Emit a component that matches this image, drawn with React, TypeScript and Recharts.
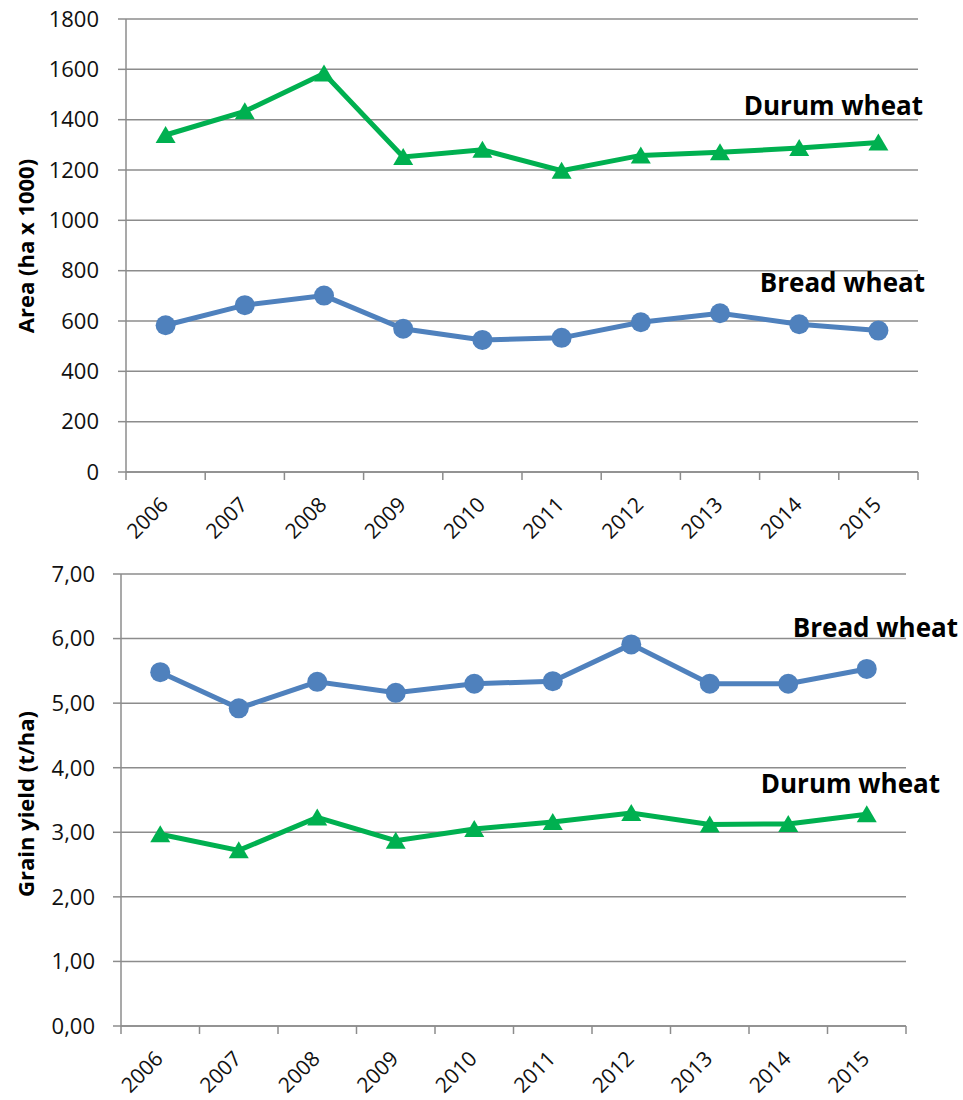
import { CartesianGrid, Customized, Line, LineChart, XAxis, YAxis } from "recharts";

const years = ["2006", "2007", "2008", "2009", "2010", "2011", "2012", "2013", "2014", "2015"];

// Area (ha x 1000)
const durumArea = [1339, 1433, 1583, 1252, 1280, 1197, 1258, 1271, 1287, 1309];
const breadArea = [583, 663, 701, 569, 525, 533, 595, 631, 587, 562];

// Grain yield (t/ha)
const breadYield = [5.48, 4.92, 5.33, 5.16, 5.3, 5.34, 5.91, 5.3, 5.3, 5.53];
const durumYield = [2.97, 2.72, 3.23, 2.87, 3.05, 3.16, 3.3, 3.12, 3.13, 3.28];

const areaTicks = [0, 200, 400, 600, 800, 1000, 1200, 1400, 1600, 1800];
const yieldTicks = [0, 1, 2, 3, 4, 5, 6, 7];

const areaRows = years.map((year, i) => ({ year, durum: durumArea[i], bread: breadArea[i] }));
const yieldRows = years.map((year, i) => ({ year, durum: durumYield[i], bread: breadYield[i] }));

const grey = "#8c8c8c";
const green = "#00B050";
const blue = "#4F81BD";
const font = "'Open Sans', sans-serif";

const Triangle = (props: any) => {
  const { cx, cy } = props;
  if (cx == null || cy == null) return null;
  return <polygon points={`${cx},${cy - 9} ${cx - 10},${cy + 8} ${cx + 10},${cy + 8}`} fill={green} />;
};

const Circle = (props: any) => {
  const { cx, cy } = props;
  if (cx == null || cy == null) return null;
  return <circle cx={cx} cy={cy} r={10} fill={blue} />;
};

// Excel-style: tick marks between categories, labels at -45°
function makeYearTick(band: number) {
  return (props: any) => {
    const { x, y, payload, index } = props;
    const left = x - band / 2;
    const tx = x + 4;
    const ty = y + 34;
    return (
      <g>
        <line x1={left} y1={y} x2={left} y2={y + 8} stroke={grey} strokeWidth={1.5} />
        {index === years.length - 1 && (
          <line x1={x + band / 2} y1={y} x2={x + band / 2} y2={y + 8} stroke={grey} strokeWidth={1.5} />
        )}
        <text x={tx} y={ty} textAnchor="end" transform={`rotate(-45, ${tx}, ${ty})`}
          fontFamily={font} fontSize={21} fill="#111">
          {payload.value}
        </text>
      </g>
    );
  };
}

function AxisTitle({ text, cx, cy }: { text: string; cx: number; cy: number }) {
  return (
    <text x={cx} y={cy} textAnchor="middle" dominantBaseline="central" transform={`rotate(-90, ${cx}, ${cy})`}
      fontFamily={font} fontWeight={700} fontSize={22} fill="#000">
      {text}
    </text>
  );
}

function SeriesNote({ text, x, y }: { text: string; x: number; y: number }) {
  return (
    <text x={x} y={y} textAnchor="end" fontFamily={font} fontWeight={700} fontSize={26} fill="#000">
      {text}
    </text>
  );
}

const tickStyle = { fontFamily: font, fontSize: 22, fill: "#111" };

export default function App() {
  return (
    <div style={{ position: "absolute", left: 0, top: 0, width: 963, height: 1100, background: "#fff" }}>
      <LineChart width={963} height={550} data={areaRows} margin={{ top: 19, right: 45, left: 66, bottom: 48 }}>
        <CartesianGrid vertical={false} stroke={grey} strokeWidth={1.5} />
        <XAxis dataKey="year" height={30} padding={{ left: 39.6, right: 39.6 }}
          axisLine={{ stroke: grey, strokeWidth: 1.5 }} tickLine={false}
          tickSize={0} tickMargin={0} interval={0} tick={makeYearTick(79.2)} />
        <YAxis width={60} domain={[0, 1800]} ticks={areaTicks} interval={0}
          axisLine={{ stroke: grey, strokeWidth: 1.5 }} tickLine={{ stroke: grey, strokeWidth: 1.5 }}
          tickSize={8} tickMargin={19} tick={tickStyle} />
        <Line dataKey="durum" stroke={green} strokeWidth={5} dot={<Triangle />} isAnimationActive={false} />
        <Line dataKey="bread" stroke={blue} strokeWidth={5} dot={<Circle />} isAnimationActive={false} />
        <Customized component={() => (
          <g>
            <AxisTitle text="Area (ha x 1000)" cx={25} cy={246} />
            <SeriesNote text="Durum wheat" x={923} y={115} />
            <SeriesNote text="Bread wheat" x={925} y={292} />
          </g>
        )} />
      </LineChart>
      <LineChart width={963} height={550} data={yieldRows} margin={{ top: 24, right: 57, left: 61, bottom: 44 }}>
        <CartesianGrid vertical={false} stroke={grey} strokeWidth={1.5} />
        <XAxis dataKey="year" height={30} padding={{ left: 39.25, right: 39.25 }}
          axisLine={{ stroke: grey, strokeWidth: 1.5 }} tickLine={false}
          tickSize={0} tickMargin={0} interval={0} tick={makeYearTick(78.5)} />
        <YAxis width={60} domain={[0, 7]} ticks={yieldTicks} interval={0}
          axisLine={{ stroke: grey, strokeWidth: 1.5 }} tickLine={{ stroke: grey, strokeWidth: 1.5 }}
          tickSize={8} tickMargin={18} tick={tickStyle}
          tickFormatter={(v: number) => v.toFixed(2).replace(".", ",")} />
        <Line dataKey="bread" stroke={blue} strokeWidth={5} dot={<Circle />} isAnimationActive={false} />
        <Line dataKey="durum" stroke={green} strokeWidth={5} dot={<Triangle />} isAnimationActive={false} />
        <Customized component={() => (
          <g>
            <AxisTitle text="Grain yield (t/ha)" cx={25} cy={254} />
            <SeriesNote text="Bread wheat" x={958} y={87} />
            <SeriesNote text="Durum wheat" x={940} y={243} />
          </g>
        )} />
      </LineChart>
    </div>
  );
}
